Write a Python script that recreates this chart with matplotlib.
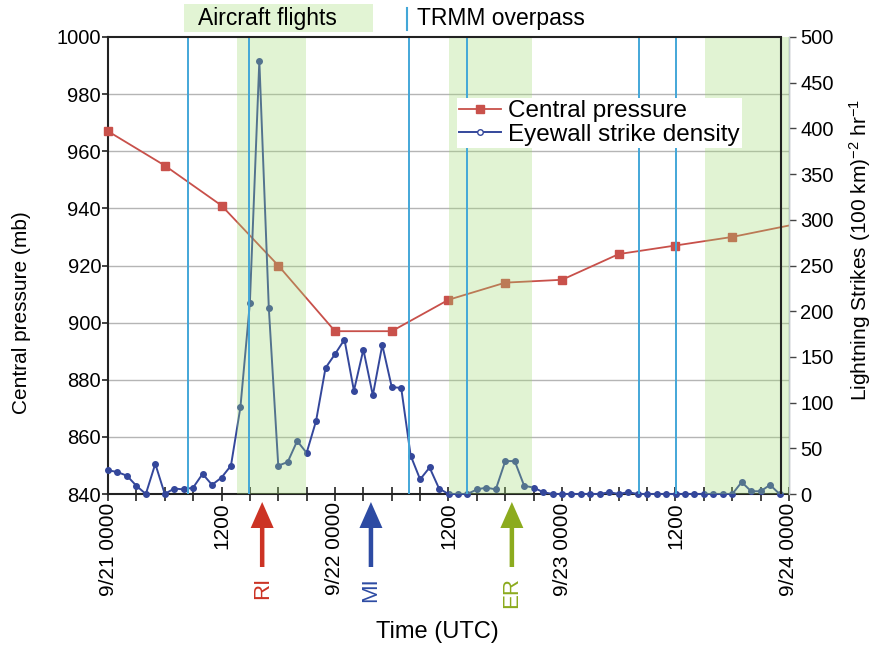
import numpy as np
import matplotlib
matplotlib.use("Agg")
import matplotlib.pyplot as plt
from matplotlib.lines import Line2D
from matplotlib.ticker import MultipleLocator, FixedLocator

plt.rcParams['font.family'] = ['Liberation Sans', 'DejaVu Sans']
plt.rcParams['mathtext.fontset'] = 'custom'
plt.rcParams['mathtext.rm'] = 'Liberation Sans'
plt.rcParams['mathtext.it'] = 'Liberation Sans'

# ---------------- data ----------------
pressure_hours = [0, 6, 12, 18, 24, 30, 36, 42, 48, 54, 60, 66, 72]
pressure_mb = [967, 955, 941, 920, 897, 897, 908, 914, 915, 924, 927, 930, 934]

strike_hours = list(range(72))
strike_density = [26, 24, 20, 9, 0, 33, 0, 6, 5, 7,
                  22, 10, 18, 31, 95, 209, 474, 204, 31, 35,
                  58, 45, 80, 138, 153, 169, 113, 158, 108, 163,
                  117, 116, 42, 16, 29, 6, 0, 0, 0, 5,
                  7, 5, 36, 36, 9, 7, 2, 0, 0, 0,
                  0, 0, 0, 2, 0, 2, 0, 0, 0, 0,
                  0, 0, 0, 0, 0, 0, 0, 13, 3, 3,
                  10, 0]

trmm_hours = [8.45, 14.9, 31.8, 38.0, 56.1, 60.1]
flight_start = [13.65, 36.0, 63.1]
flight_end = [20.9, 44.8, 72.0]

xtick_hours = [0, 12, 24, 36, 48, 60, 72]
xtick_labels = ['9/21 0000', '1200', '9/22 0000', '1200', '9/23 0000', '1200', '9/24 0000']

event_names = ['RI', 'MI', 'ER']
event_hours = [16.3, 27.8, 42.7]
event_colors = ['#cc3324', '#2d4ba3', '#8cab1e']

# ---------------- figure ----------------
W, H = 877, 645
fig = plt.figure(figsize=(W / 100, H / 100), dpi=100)

def fx(px):
    return px / W

def fy(py):
    return 1 - py / H

L, R, T, B = 108, 789, 37, 494
ax = fig.add_axes([fx(L), fy(B), (R - L) / W, (B - T) / H])
ax2 = ax.twinx()

RED = '#c8504a'
BLUE = '#34479b'
TRMM = '#43a7d8'
GREEN_OVER = '#9eda70'
GREEN_LIGHT = '#e2f4d4'

ax.set_xlim(0, 72)
ax.set_ylim(840, 1000)
ax2.set_ylim(0, 500)

# grid
for v in range(860, 1000, 20):
    ax.axhline(v, color='#b5b5b5', lw=1.0, zorder=0)

# pressure
ax.plot(pressure_hours, pressure_mb, color=RED, lw=1.3, marker='s', ms=6,
        mfc='#c9514b', mec='#c9514b', markevery=list(range(len(pressure_hours) - 1)),
        zorder=3, clip_on=False)

# strike density
ax2.plot(strike_hours, strike_density, color=BLUE, lw=1.4, marker='o', ms=4,
         mfc=BLUE, mec=BLUE, zorder=3, clip_on=False)

# aircraft flights shading (drawn over data, translucent)
for s, e in zip(flight_start, flight_end):
    ax2.axvspan(s, e, color=GREEN_OVER, alpha=0.3, lw=0, zorder=4)

# TRMM overpass lines
for t in trmm_hours:
    ax2.axvline(t, color=TRMM, lw=1.4, zorder=5)

# frame
frame_x = 71.15
ax2.axvline(frame_x, color='#222222', lw=1.5, zorder=6)
ax2.plot([0, frame_x], [500, 500], color='#222222', lw=1.5, zorder=6, clip_on=False)

for a in (ax, ax2):
    a.spines['top'].set_visible(False)
ax.spines['left'].set_color('#222222')
ax.spines['left'].set_linewidth(1.5)
ax.spines['bottom'].set_color('#222222')
ax.spines['bottom'].set_linewidth(1.5)
ax2.spines['right'].set_color('#c0c8d0')
ax2.spines['right'].set_linewidth(1.0)
ax2.spines['left'].set_visible(False)
ax2.spines['bottom'].set_visible(False)

# ticks
ax.xaxis.set_major_locator(FixedLocator(xtick_hours))
ax.xaxis.set_minor_locator(MultipleLocator(3))
ax.set_xticklabels(xtick_labels, rotation=90, fontsize=15, va='top', ha='center')
ax.tick_params(axis='x', which='both', direction='inout', length=10, width=1.2,
               color='#222222', pad=1)
ax.yaxis.set_major_locator(MultipleLocator(20))
ax.tick_params(axis='y', direction='out', length=4, width=1.2, color='#222222',
               labelsize=14.5, pad=1)
ax2.yaxis.set_major_locator(MultipleLocator(50))
ax2.tick_params(axis='y', direction='out', length=5, width=1.0, color='#444444',
                labelsize=14.5, pad=3)

# axis labels
fig.text(fx(22), fy(313), 'Central pressure (mb)', rotation=90, ha='center',
         va='center', fontsize=15)
fig.text(fx(860), fy(250), 'Lightning Strikes (100 km)$^{-2}$ hr$^{-1}$', rotation=90,
         ha='center', va='center', fontsize=15)
fig.text(fx(437), fy(632), 'Time (UTC)', ha='center', va='center', fontsize=17)

# event arrows below the axis
px_per_mb = (B - T) / 160.0
y_tip = 840 - (502 - B) / px_per_mb
y_tail = 840 - (567 - B) / px_per_mb
hr_per_px = 72 / (R - L)
for name, t, c in zip(event_names, event_hours, event_colors):
    ax.arrow(t, y_tail, 0, y_tip - y_tail, width=4.5 * hr_per_px,
             head_width=23 * hr_per_px, head_length=26 / px_per_mb,
             length_includes_head=True, color=c, lw=0, clip_on=False, zorder=10)
    ax.text(t, y_tail - 10 / px_per_mb, name, rotation=90, ha='center', va='top',
            color=c, fontsize=16, clip_on=False)

# legend inside plot
h1 = Line2D([], [], color=RED, lw=1.3, marker='s', ms=6, mfc='#c9514b', mec='#c9514b')
h2 = Line2D([], [], color=BLUE, lw=1.4, marker='o', ms=4, mfc='white', mec=BLUE)
leg = ax2.legend([h1, h2], ['Central pressure', 'Eyewall strike density'],
                 loc='upper left', bbox_to_anchor=(fx(457), fy(98)),
                 bbox_transform=fig.transFigure, fontsize=17.5, frameon=True,
                 fancybox=False, framealpha=1, edgecolor='none', facecolor='white',
                 borderpad=0.1, labelspacing=0.05, handlelength=1.7,
                 handletextpad=0.3, borderaxespad=0)
leg.set_zorder(20)

# top key
fig.patches.append(plt.Rectangle((fx(184), fy(32)), fx(373) - fx(184), fy(4) - fy(32),
                                 transform=fig.transFigure, color=GREEN_LIGHT, lw=0))
fig.text(fx(198), fy(18), 'Aircraft flights', ha='left', va='center', fontsize=16.5)
fig.add_artist(Line2D([fx(407), fx(407)], [fy(8), fy(30)], color=TRMM, lw=1.5,
                      transform=fig.transFigure))
fig.text(fx(417), fy(18), 'TRMM overpass', ha='left', va='center', fontsize=16.5)

fig.savefig('out.png', dpi=100)
